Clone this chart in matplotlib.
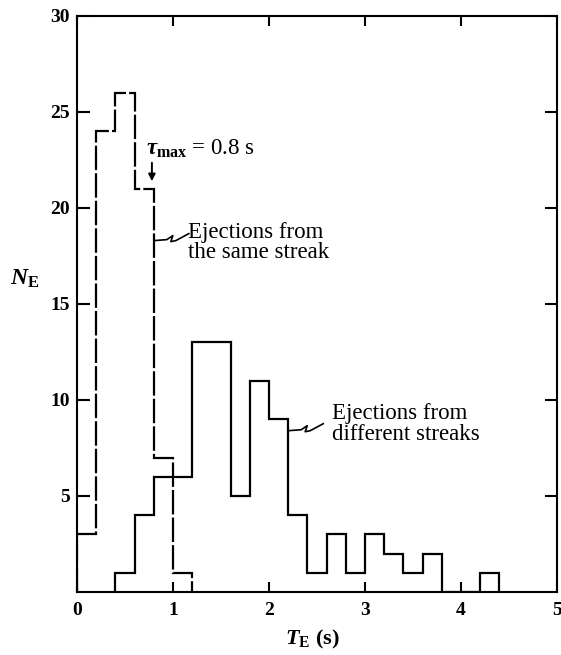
import numpy as np
import matplotlib
matplotlib.use('Agg')
from matplotlib import pyplot as plt
from matplotlib import transforms

plt.rcParams['font.family'] = ['Liberation Serif', 'DejaVu Serif']
plt.rcParams['mathtext.fontset'] = 'custom'
plt.rcParams['mathtext.rm'] = 'Liberation Serif:bold'
plt.rcParams['mathtext.it'] = 'Liberation Serif:italic:bold'
plt.rcParams['mathtext.bf'] = 'Liberation Serif:bold'

# Bin edges of the ejection period histograms (0.2 s bins)
edges_same = [0.0, 0.2, 0.4, 0.6, 0.8, 1.0, 1.2]
counts_same = [3, 24, 26, 21, 7, 1]

edges_diff = [0.4, 0.6, 0.8, 1.0, 1.2, 1.4, 1.6, 1.8, 2.0, 2.2, 2.4, 2.6,
              2.8, 3.0, 3.2, 3.4, 3.6, 3.8, 4.0, 4.2, 4.4]
counts_diff = [1, 4, 6, 6, 13, 13, 5, 11, 9, 4, 1, 3, 1, 3, 2, 1, 2, 0, 0, 1]

x_ticks = [0, 1, 2, 3, 4, 5]
y_ticks = [5, 10, 15, 20, 25, 30]

fig = plt.figure(figsize=(5.61, 6.55), dpi=100)
ax = fig.add_axes([0.1373, 0.0962, 0.8556, 0.8794])

ax.stairs(counts_same, edges_same, baseline=0, color='black', lw=1.6,
          linestyle=(0, (11, 1.4)))
ax.stairs(counts_diff, edges_diff, baseline=0, color='black', lw=1.6)

ax.set_xlim(0, 5)
ax.set_ylim(0, 30)
ax.set_xticks(x_ticks)
ax.set_xticklabels([str(v) for v in x_ticks], fontweight='bold', fontsize=14)
ax.set_yticks(y_ticks)
ax.set_yticklabels([str(v) for v in y_ticks], fontweight='bold', fontsize=14)
ax.tick_params(axis='x', direction='in', length=7, width=1.5, top=True, pad=7)
ax.tick_params(axis='y', direction='in', length=9, width=1.5, right=True, pad=5)
for s in ax.spines.values():
    s.set_linewidth(1.5)

ax.text(-0.11, 0.543, r'$N_{\mathrm{E}}$', transform=ax.transAxes,
        fontsize=17, ha='center', va='center')
ax.text(0.49, -0.083, r'$T_{\mathrm{E}}$ (s)', transform=ax.transAxes,
        fontsize=16, fontweight='bold', ha='center', va='center')

# tau_max marker
ax.text(0.72, 23.1, r'$\tau_{\mathrm{max}}$ = 0.8 s', fontsize=16.5,
        ha='left', va='center')
ax.annotate('', xy=(0.78, 21.25), xytext=(0.78, 22.5),
            arrowprops=dict(arrowstyle='-|>', lw=1.4, color='black',
                            mutation_scale=10))

ax.text(1.156, 18.2, 'Ejections from\nthe same streak', fontsize=16.5,
        ha='left', va='center', linespacing=0.98)
ax.text(2.656, 8.75, 'Ejections from\ndifferent streaks', fontsize=16.5,
        ha='left', va='center', linespacing=0.98)

# squiggly leader lines from each histogram to its label
squiggle = np.array([(0, 0), (13, 1), (19, 5), (17, -1), (22, 0), (35, 7)]) / 100.0
for x0, y0 in [(0.8, 18.3), (2.2, 8.4)]:
    tr = fig.dpi_scale_trans + transforms.ScaledTranslation(x0, y0, ax.transData)
    ax.plot(squiggle[:, 0], squiggle[:, 1], color='black', lw=1.2,
            transform=tr, clip_on=False)

fig.savefig('out.png', dpi=100)
